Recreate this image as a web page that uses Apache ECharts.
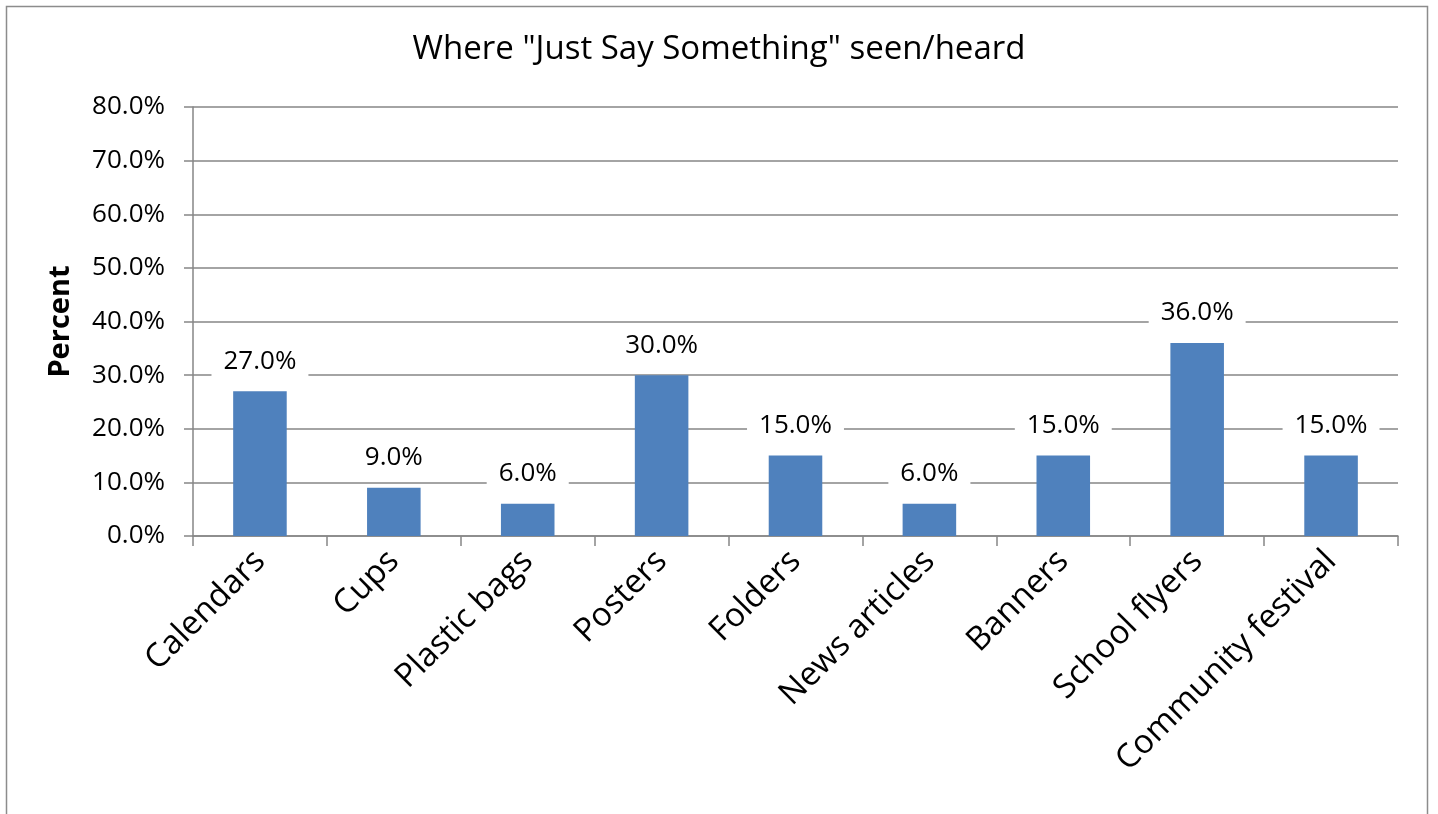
<!DOCTYPE html>
<html><head><meta charset="utf-8">
<script src="https://cdn.jsdelivr.net/npm/echarts@6/dist/echarts.min.js"></script>
<style>html,body{margin:0;padding:0;background:#fff}#c{width:1438px;height:814px}</style>
</head><body><div id="c"></div>
<script>
const categories = ["Calendars","Cups","Plastic bags","Posters","Folders","News articles","Banners","School flyers","Community festival"];
const values = [27.0, 9.0, 6.0, 30.0, 15.0, 6.0, 15.0, 36.0, 15.0];
const yTicks = [0,10,20,30,40,50,60,70,80];
const font = "'Open Sans', 'Liberation Sans', sans-serif";
const chart = echarts.init(document.getElementById('c'));
chart.setOption({
  animation:false,
  backgroundColor:'#fff',
  graphic:[{type:'rect',shape:{x:6.5,y:6.5,width:1421,height:900},style:{fill:'none',stroke:'#8c8c8c',lineWidth:1.5},silent:true}],
  title:{text:'Where "Just Say Something" seen/heard',left:'center',top:28,
    textStyle:{fontFamily:font,fontSize:33,fontWeight:'normal',color:'#000'}},
  grid:{left:193,right:40,top:107,bottom:278},
  xAxis:{type:'category',data:categories,
    axisLine:{lineStyle:{color:'#868686',width:1.5}},
    axisTick:{show:true,length:10,alignWithLabel:false,lineStyle:{color:'#868686',width:1.5}},
    axisLabel:{rotate:45,interval:0,fontFamily:font,fontSize:33,color:'#000',margin:20}},
  yAxis:{type:'value',min:0,max:80,interval:10,
    name:'Percent',nameLocation:'middle',nameGap:118,
    nameTextStyle:{fontFamily:font,fontSize:29,fontWeight:'bold',color:'#000'},
    axisLine:{show:true,lineStyle:{color:'#868686',width:1.5}},
    axisTick:{show:true,length:9,lineStyle:{color:'#868686',width:1.5}},
    splitLine:{lineStyle:{color:'#868686',width:1.5}},
    axisLabel:{fontFamily:font,fontSize:26,color:'#000',margin:28,
      formatter:v=>v.toFixed(1)+'%'}},
  series:[{type:'bar',data:values,barWidth:'40%',
    itemStyle:{color:'#4F81BD'},
    label:{show:true,position:'top',distance:13,formatter:p=>p.value.toFixed(1)+'%',
      fontFamily:font,fontSize:26,color:'#000',backgroundColor:'#fff',padding:[4,12]}}]
});
</script></body></html>
